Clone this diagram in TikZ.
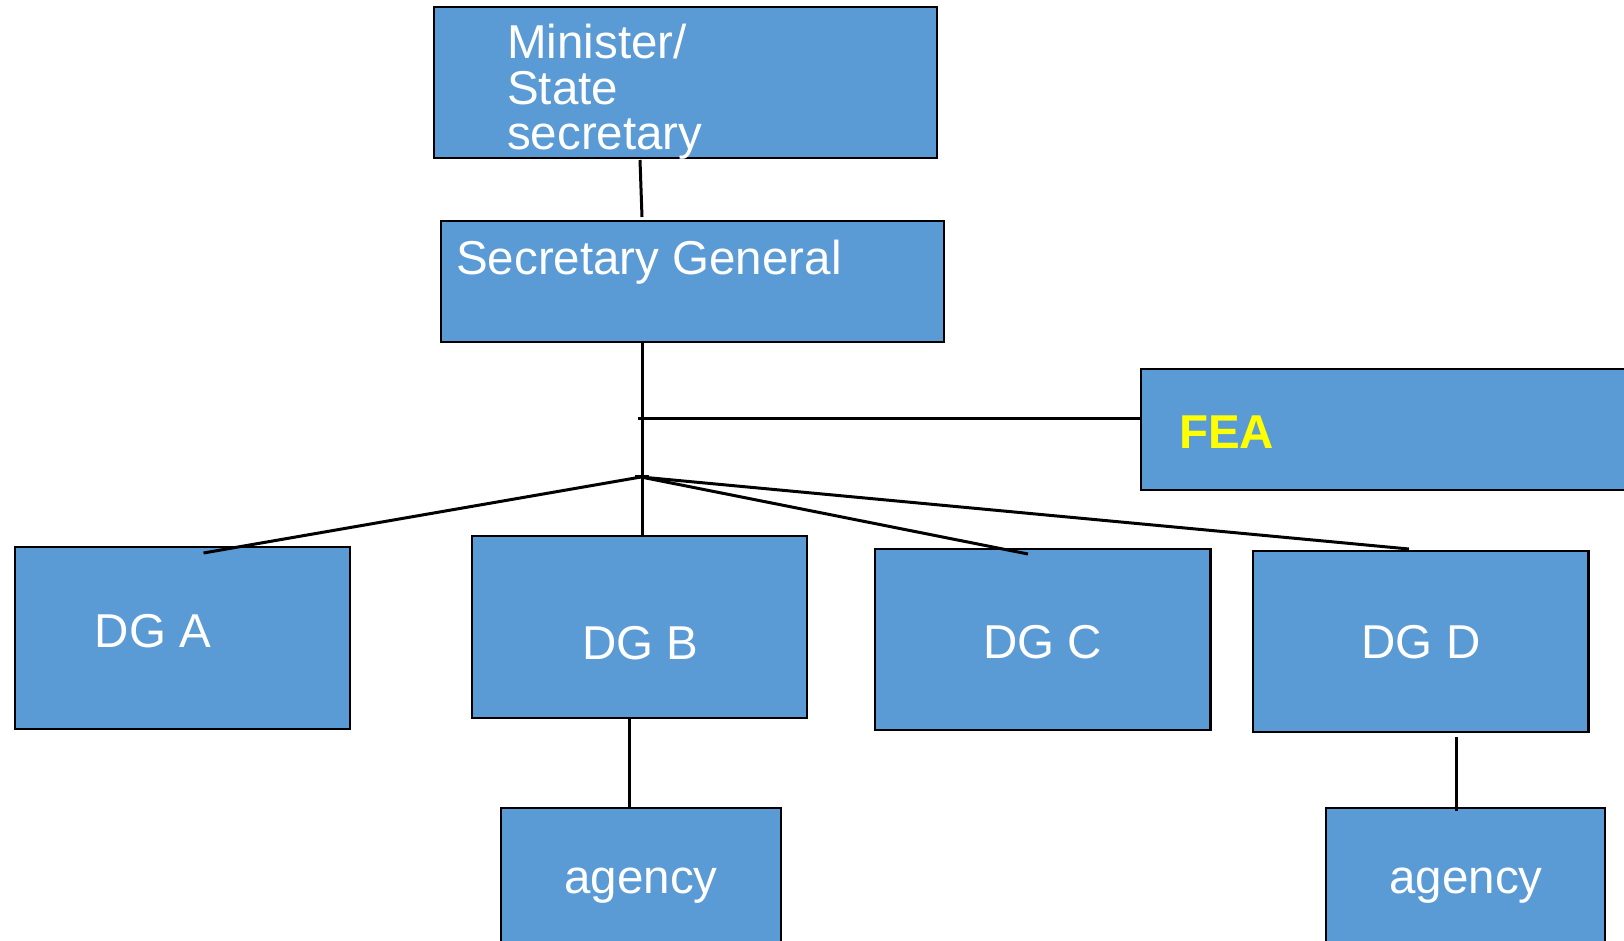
\documentclass[tikz,border=0pt]{standalone}
\usepackage{fontspec}
\setmainfont{Liberation Sans}
\definecolor{boxblue}{HTML}{5B9BD5}
\definecolor{feayellow}{HTML}{FFFF00}
\begin{document}
\begin{tikzpicture}[x=1pt,y=-1pt,
  orgbox/.style={draw=black, fill=boxblue, line width=2.5pt, inner sep=0pt, outer sep=0pt, rectangle},
  wtext/.style={text=white, inner sep=0pt, font=\fontsize{47.5}{47.5}\selectfont},
  conn/.style={draw=black, line width=3pt}]
\useasboundingbox (0,0) rectangle (1624,940);
\fill[white] (0,0) rectangle (1624,940);
% boxes
\node[orgbox, minimum width=503pt, minimum height=151pt] (min) at (685.5,82.5) {};
\node[orgbox, minimum width=503pt, minimum height=121pt] (sg) at (692.5,281.5) {};
\node[orgbox, minimum width=519pt, minimum height=121pt] (fea) at (1400.5,429.5) {};
\node[orgbox, minimum width=335pt, minimum height=182pt] (dga) at (182.5,638) {};
\node[orgbox, minimum width=335pt, minimum height=182pt] (dgb) at (639.5,627) {};
\node[orgbox, minimum width=335.5pt, minimum height=181pt] (dgc) at (1042.75,639.5) {};
\node[orgbox, minimum width=335.5pt, minimum height=181pt] (dgd) at (1420.75,641.5) {};
\node[orgbox, minimum width=280pt, minimum height=152pt] (ag1) at (641,884) {};
\node[orgbox, minimum width=279pt, minimum height=152pt] (ag2) at (1465.5,884) {};
% connector points
\coordinate (m1) at (640,160);
\coordinate (m2) at (642,217);
\coordinate (s1) at (642.5,342);
\coordinate (b1) at (642.5,536);
\coordinate (fj) at (637.5,418);
\coordinate (hub) at (641,477);
\coordinate (hubl) at (635,476);
\coordinate (hubr) at (649,476);
\coordinate (ea) at (203.5,553);
\coordinate (ec) at (1028,554);
\coordinate (ed) at (1409,549);
\coordinate (bb) at (629,718);
\coordinate (bt) at (629,809);
\coordinate (db) at (1456,737);
\coordinate (dt) at (1456,811);
% connectors
\draw[conn] (m1) -- (m2);
\draw[conn] (s1) -- (b1);
\draw[conn] (fj) -- (fj -| fea.west);
\draw[conn] (hubl) -- (hubr);
\draw[conn] (hub) -- (ea);
\draw[conn] (hub) -- (ec);
\draw[conn] (hub) -- (ed);
\draw[conn] (bb) -- (bt);
\draw[conn] (db) -- (dt);
% texts
\node[wtext, anchor=base west] (mint1) at (507,58) {Minister/};
\node[wtext, anchor=base west] (mint2) at (507,104) {State};
\node[wtext, anchor=base west] (mint3) at (507,149) {secretary};
\node[wtext, anchor=base west] (sgt) at (456,274) {Secretary General};
\node[wtext, anchor=base west, text=feayellow, font=\fontsize{47.5}{47.5}\selectfont\bfseries] (feat) at (1179,448) {FEA};
\node[wtext, anchor=base] (dgat) at (153,647) {DG A};
\node[wtext, anchor=base] (dgbt) at (640.5,659) {DG B};
\node[wtext, anchor=base] (dgct) at (1042.5,658) {DG C};
\node[wtext, anchor=base] (dgdt) at (1421,658) {DG D};
\node[wtext, anchor=base] (ag1t) at (641,893) {agency};
\node[wtext, anchor=base] (ag2t) at (1466,893) {agency};
\end{tikzpicture}
\end{document}
